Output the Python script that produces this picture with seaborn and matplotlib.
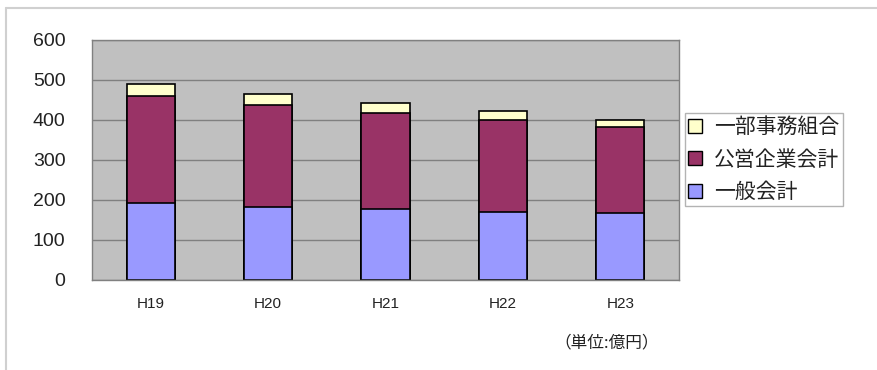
import matplotlib
matplotlib.use("Agg")
import matplotlib.pyplot as plt
import matplotlib.patches as mpatches
import seaborn as sns
import pandas as pd

# Data (unit: 100 million yen)
years = ['H19', 'H20', 'H21', 'H22', 'H23']
general = [193, 183, 177, 171, 168]        # 一般会計
public_ent = [267, 254, 240, 229, 215]     # 公営企業会計
partial = [29, 28, 26, 22, 17]            # 一部事務組合
series_names = ['一部事務組合', '公営企業会計', '一般会計']
colors = ['#FFFFCC', '#993366', '#9999FF']

sns.set_style('white')
plt.rcParams['font.family'] = ['Noto Sans CJK JP', 'DejaVu Sans']

df = pd.DataFrame({'year': years, 'general': general,
                   'public_ent': public_ent, 'partial': partial})
df['mid'] = df['general'] + df['public_ent']
df['total'] = df['mid'] + df['partial']

fig = plt.figure(figsize=(8.78, 3.70), dpi=100)
ax = fig.add_axes([92 / 878, 1 - 280 / 370, 587 / 878, 240 / 370])
ax.set_facecolor('#C0C0C0')

# stacked bars drawn back to front (cumulative heights)
for col, c in zip(['total', 'mid', 'general'], colors):
    sns.barplot(data=df, x='year', y=col, color=c, width=0.41,
                edgecolor='black', linewidth=1.2, ax=ax, saturation=1)

ax.set_ylim(0, 600)
ax.set_yticks(range(0, 601, 100))
ax.yaxis.grid(True, color='#808080', linewidth=1)
ax.set_axisbelow(True)
ax.set_xlabel('')
ax.set_ylabel('')
for s in ax.spines.values():
    s.set_color('#808080')
    s.set_linewidth(1)
ax.tick_params(axis='y', length=0, pad=19, labelsize=14, labelcolor='#222222')
ax.tick_params(axis='x', length=0, pad=12, labelsize=11, labelcolor='#222222')
for lab in ax.get_yticklabels() + ax.get_xticklabels():
    lab.set_fontfamily('Liberation Sans')

handles = [mpatches.Patch(facecolor=c, edgecolor='black', linewidth=1) for c in colors]
leg = fig.legend(handles, series_names, loc='upper left',
                 bbox_to_anchor=(685 / 878, 1 - 113 / 370), frameon=True,
                 fontsize=15, handlelength=0.65, handleheight=0.65,
                 handletextpad=0.6, labelspacing=0.5, borderpad=0.15,
                 borderaxespad=0, fancybox=False)
leg.get_frame().set_edgecolor('#A0A0A0')
for t in leg.get_texts():
    t.set_color('#222222')

fig.text(607 / 878, 1 - 343 / 370, '（単位:億円）', ha='center', va='center',
         fontsize=12, color='#222222')

# outer frame lines
fig.add_artist(plt.Line2D([6 / 878, 1], [1 - 8 / 370, 1 - 8 / 370], color='#D0D0D0', linewidth=1.5))
fig.add_artist(plt.Line2D([6 / 878, 6 / 878], [0, 1 - 8 / 370], color='#D0D0D0', linewidth=1.5))

fig.savefig('out.png', dpi=100)
